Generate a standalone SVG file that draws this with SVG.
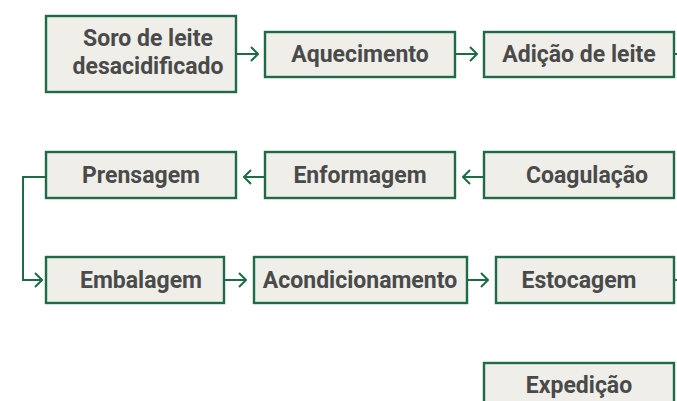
<svg xmlns="http://www.w3.org/2000/svg" width="677" height="401" viewBox="0 0 677 401">
<style>
.box{fill:#efeee9;stroke:#1f6b45;stroke-width:2.4}
.t{font-family:Roboto,"Liberation Sans",sans-serif;font-weight:700;font-size:23px;fill:#4a4a4a;text-anchor:middle}
.c{fill:none;stroke:#1f6b45;stroke-width:2}
</style>
<defs>
<marker id="ah" viewBox="0 0 10 16" refX="9" refY="8" markerWidth="10" markerHeight="16" markerUnits="userSpaceOnUse" orient="auto">
<path d="M2,1 L9,8 L2,15" fill="none" stroke="#1f6b45" stroke-width="2"/>
</marker>
</defs>
<g id="connectors">
<line class="c" x1="236" y1="54" x2="258" y2="54" marker-end="url(#ah)"/>
<line class="c" x1="455" y1="54" x2="477" y2="54" marker-end="url(#ah)"/>
<line class="c" x1="674" y1="54" x2="677" y2="54"/>
<line class="c" x1="484" y1="177" x2="463" y2="177" marker-end="url(#ah)"/>
<line class="c" x1="265" y1="177" x2="244" y2="177" marker-end="url(#ah)"/>
<polyline class="c" points="46,177 23,177 23,280 42,280" marker-end="url(#ah)"/>
<line class="c" x1="224" y1="280" x2="246" y2="280" marker-end="url(#ah)"/>
<line class="c" x1="467" y1="280" x2="488" y2="280" marker-end="url(#ah)"/>
<line class="c" x1="674" y1="280" x2="677" y2="280"/>
</g>
<g id="n1"><rect class="box" x="46" y="16" width="190" height="76"/><text class="t" x="148" y="46">Soro de leite</text><text class="t" x="148" y="74">desacidificado</text></g>
<g id="n2"><rect class="box" x="265" y="32" width="190" height="45"/><text class="t" x="360" y="62">Aquecimento</text></g>
<g id="n3"><rect class="box" x="484" y="32" width="190" height="45"/><text class="t" x="579" y="62">Adição de leite</text></g>
<g id="n4"><rect class="box" x="484" y="152" width="190" height="46"/><text class="t" x="587" y="182.5">Coagulação</text></g>
<g id="n5"><rect class="box" x="265" y="152" width="190" height="46"/><text class="t" x="360" y="182.5">Enformagem</text></g>
<g id="n6"><rect class="box" x="46" y="152" width="190" height="46"/><text class="t" x="141" y="182.5">Prensagem</text></g>
<g id="n7"><rect class="box" x="46" y="257" width="178" height="46"/><text class="t" x="141" y="287.5">Embalagem</text></g>
<g id="n8"><rect class="box" x="254" y="257" width="213" height="46"/><text class="t" x="360" y="287.5">Acondicionamento</text></g>
<g id="n9"><rect class="box" x="496" y="257" width="178" height="46"/><text class="t" x="579" y="287.5">Estocagem</text></g>
<g id="n10"><rect class="box" x="484" y="363" width="190" height="46"/><text class="t" x="579" y="392.5">Expedição</text></g>
</svg>
